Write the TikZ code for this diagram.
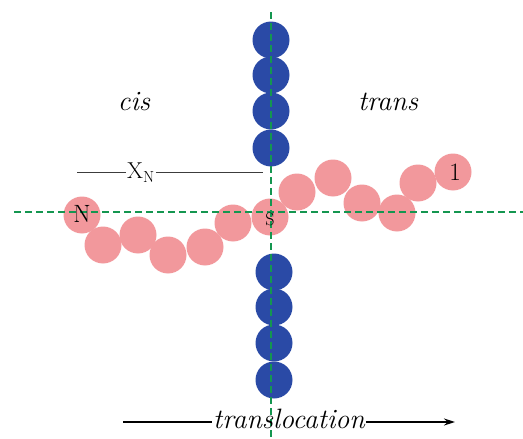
\documentclass[tikz,border=0pt]{standalone}
\usetikzlibrary{arrows.meta}
\definecolor{pinkbead}{RGB}{242,152,156}
\definecolor{bluebead}{RGB}{42,74,166}
\definecolor{guide}{RGB}{20,150,80}
\definecolor{rule}{RGB}{60,60,60}
\begin{document}
\begin{tikzpicture}[x=1pt,y=-1pt,
  pbead/.style={circle,fill=pinkbead,minimum size=37pt,inner sep=0pt},
  bbead/.style={circle,fill=bluebead,minimum size=37pt,inner sep=0pt},
  guideline/.style={guide,line width=2.8pt,dash pattern=on 7pt off 4pt},
  lab/.style={font=\fontsize{28}{30}\selectfont\itshape},
  beadlabel/.style={font=\fontsize{25}{27}\selectfont}]
\path[use as bounding box,fill=white] (0,0) rectangle (523,439);
% pore beads
\foreach \y [count=\i] in {40,75,111,148}
  \node[bbead] (t\i) at (271,\y) {};
\foreach \y [count=\i] in {272,307,343,380}
  \node[bbead] (b\i) at (274,\y) {};
% chain beads
\foreach \x/\y [count=\i] in {82/215,103/245,138/235,168/255,205/247,233/223,270/217,297/192,333/178,362/203,397/213,418/183,453/172}
  \node[pbead] (p\i) at (\x,\y) {};
% guide lines
\coordinate (vtop) at (271,12);
\coordinate (vbot) at (271,439);
\coordinate (hl) at (14,212);
\coordinate (hr) at (523,212);
\draw[guideline] (vtop) -- (vbot);
\draw[guideline] (hl) -- (hr);
% labels
\node[lab] (cis) at (134,102) {cis};
\node[lab] (trans) at (388,102) {trans};
\node[beadlabel] (lN) at (82,214) {N};
\node[font=\fontsize{18}{20}\selectfont] (lS) at (270,219) {S};
\node[beadlabel] (l1) at (455,172) {1};
\node[font=\fontsize{23}{25}\selectfont,inner sep=1pt] (xn) at (141,173) {X\textsubscript{N}};
\coordinate (xl) at (77,172);
\coordinate (xr) at (263,172);
\draw[rule,line width=0.9pt] (xl) -- (xn.west |- xl);
\draw[rule,line width=0.9pt] (xn.east |- xr) -- (xr);
% translocation arrow
\node[lab,inner sep=1pt] (tl) at (289,419) {translocation};
\coordinate (al) at (123,422);
\coordinate (ar) at (455,422);
\draw[line width=1.4pt] (al) -- (tl.west |- al);
\draw[line width=1.4pt,-{Stealth[length=11pt,width=7pt]}] (tl.east |- ar) -- (ar);
\end{tikzpicture}
\end{document}
